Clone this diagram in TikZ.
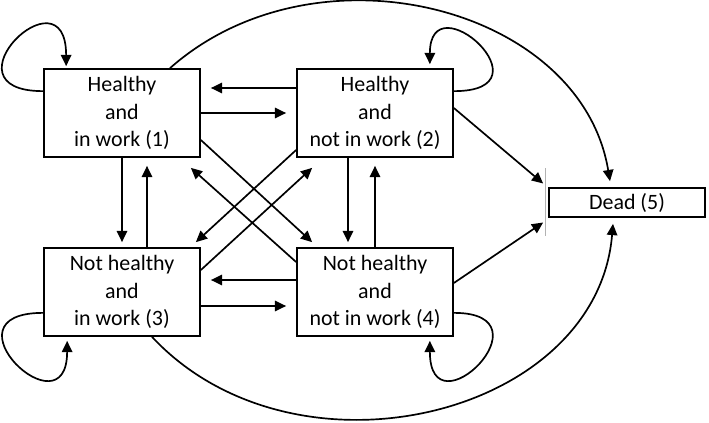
\documentclass[tikz,border=0pt]{standalone}
\usepackage{fontspec}
\setmainfont{Carlito}
\usetikzlibrary{arrows.meta,calc}

\tikzset{
  statebox/.style={draw, line width=1.2pt, minimum width=3.9cm, minimum height=2.2cm,
    align=center, inner sep=0pt, font=\fontsize{15.6pt}{19.8pt}\selectfont},
  arr/.style={-{Triangle[length=8pt,width=7.4pt]}, line width=1.2pt},
}

\begin{document}
\begin{tikzpicture}[x=0.025cm, y=-0.025cm]
\useasboundingbox (0,0) rectangle (709,422);
%% ---- States ----
\node[statebox] (hw) at (122,113) {Healthy\\and\\in work (1)};
\node[statebox] (hn) at (375,113) {Healthy\\and\\not in work (2)};
\node[statebox] (uw) at (122,292) {Not healthy\\and\\in work (3)};
\node[statebox] (un) at (375,292) {Not healthy\\and\\not in work (4)};
\node[statebox, minimum height=0.725cm] (dead) at (627,202.5) {Dead (5)};
\coordinate (bartop) at (545,168);
\coordinate (barbot) at (545,236);
\draw[gray!60, line width=0.6pt] (bartop) -- (barbot);
%% ---- Work changes ----
\draw[arr] ($(hn.west)+(0,-25)$) -- ($(hw.east)+(10,-25)$);
\draw[arr] (hw.east) -- ($(hn.west)+(-10,0)$);
\draw[arr] ($(un.west)+(0,-12)$) -- ($(uw.east)+(10,-12)$);
\draw[arr] ($(uw.east)+(0,14)$) -- ($(un.west)+(-10,14)$);
%% ---- Health changes ----
\draw[arr] (hw.south) -- ($(uw.north)+(0,-5)$);
\draw[arr] ($(uw.north)+(25,0)$) -- ($(hw.south)+(25,8)$);
\draw[arr] ($(hn.south)+(-27,0)$) -- ($(un.north)+(-27,-5)$);
\draw[arr] (un.north) -- ($(hn.south)+(0,8)$);
%% ---- Both change ----
\draw[arr] ($(hw.east)+(0,27)$) -- ($(un.north west)+(16,-5)$);
\draw[arr] ($(un.west)+(0,-30)$) -- ($(hw.south east)+(-10,10)$);
\draw[arr] ($(hn.west)+(0,37)$) -- ($(uw.north east)+(-5,-5)$);
\draw[arr] ($(uw.east)+(0,-22)$) -- ($(hn.south west)+(16,10)$);
%% ---- Death ----
\draw[arr] ($(hn.east)+(0,-5)$) -- ($(dead.west)+(-5,-19)$);
\draw[arr] ($(un.east)+(0,-9)$) -- ($(dead.west)+(-5,20)$);
\draw[arr] ($(hw.north)+(48,0)$) .. controls (316,-61) and (581,6) .. ($(dead.north)+(-17,-6)$);
\draw[arr] ($(uw.south)+(30,0)$) .. controls (295,490) and (597,417) .. ($(dead.south)+(-14,6)$);
%% ---- Staying ----
\draw[arr] ($(hw.north west)+(0,23)$) .. controls +(-105,0) and +(0,-100) .. ($(hw.north west)+(23,-2)$);
\draw[arr] ($(hn.north east)+(0,23)$) .. controls +(100,0) and +(0,-85) .. ($(hn.north east)+(-24,-4)$);
\draw[arr] ($(uw.south west)+(0,-24)$) .. controls +(-105,0) and +(0,95) .. ($(uw.south west)+(24,4)$);
\draw[arr] ($(un.south east)+(0,-24)$) .. controls +(100,0) and +(0,95) .. ($(un.south east)+(-24,4)$);
\end{tikzpicture}
\end{document}
